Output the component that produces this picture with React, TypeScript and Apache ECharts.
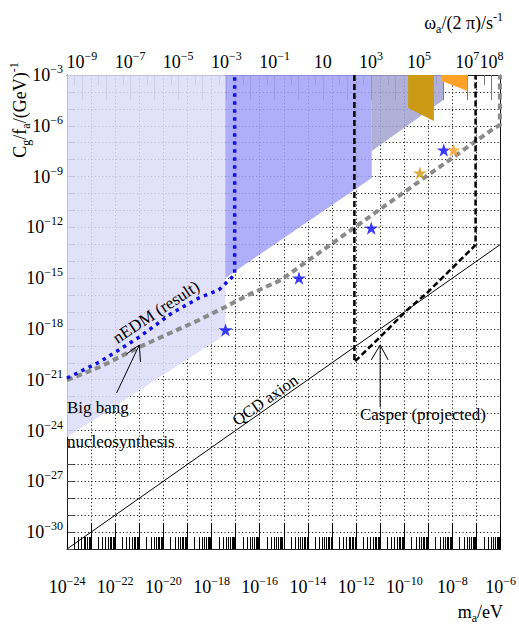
import React, { useEffect, useRef } from 'react';
import * as echarts from 'echarts';

const SERIF = '"Liberation Serif", "Times New Roman", serif';

// All values are log10: x = log10(m_a / eV), y = log10(C_g/f_a / GeV^-1)
const massMin = -24;
const massMax = -6;
const couplingMin = -31;
const couplingMax = -3;
const freqOffset = 14.383; // log10(frequency/Hz) - log10(mass/eV)

const bottomLabelExps = [-24, -22, -20, -18, -16, -14, -12, -10, -8, -6];
const leftLabelExps = [-30, -27, -24, -21, -18, -15, -12, -9, -6, -3];
const topLabelExps = [-9, -7, -5, -3, -1, 1, 3, 5, 7, 8];

// excluded regions (polygons)
const regionLight = [[-24, -3], [-17.43, -3], [-17.43, -18.35], [-24, -24.4]];
const regionBlue = [[-17.43, -3], [-11.35, -3], [-11.35, -9.08], [-17.43, -14.99]];
const regionGrey = [[-11.35, -3], [-8.38, -3], [-8.38, -4.48], [-11.35, -7.49]];
const regionGold = [[-9.84, -3], [-8.77, -3], [-8.77, -5.72], [-9.84, -4.95]];
const regionOrange = [[-8.44, -3], [-7.37, -3], [-7.37, -3.95], [-8.44, -3.35]];

// limit lines
const nedmLine = [[-24, -20.9], [-22.64, -19.95], [-21, -18.48], [-19.64, -17.06], [-18.52, -16.17], [-17.7, -15.7], [-17.04, -14.81], [-17.04, -3]];
const greyLine = [[-24, -21.02], [-22.64, -20.25], [-21, -19.07], [-18.52, -17.47], [-17.43, -16.7], [-16.47, -15.99], [-15.12, -15.11], [-11.04, -10.97], [-6.26, -6.13], [-6.03, -5.95], [-6.03, -3]];
const casperLine = [[-12.07, -3], [-12.07, -19.95], [-11.04, -18.53], [-9.88, -16.88], [-9.06, -15.88], [-7.04, -13.04], [-7.04, -3]];
const qcdLine = [[-24, -31], [-6, -13]];

// annotation arrows
const bbnArrowShaft = [[-21.94, -21.78], [-21.0, -18.95]];
const bbnArrowHead = [[-21.53, -19.48], [-21.0, -18.95], [-20.95, -19.95]];
const casperArrowShaft = [[-11.0, -22.61], [-11.0, -18.95]];
const casperArrowHead = [[-11.37, -19.83], [-11.0, -18.95], [-10.67, -19.83]];

// stars
const blueStars = [[-17.42, -18.06], [-14.37, -14.99], [-11.37, -12.04], [-8.36, -7.43]];
const goldStars = [[-9.35, -8.79]];
const orangeStars = [[-7.95, -7.43]];

const STAR = 'path://M50,0 L61.2,34.5 L97.6,34.5 L68.2,55.9 L79.4,90.5 L50,69.1 L20.6,90.5 L31.8,55.9 L2.4,34.5 L38.8,34.5 Z';

const rich = {
  b: { fontFamily: SERIF, fontSize: 18, lineHeight: 24, color: '#000' },
  s: { fontFamily: SERIF, fontSize: 12, lineHeight: 12, verticalAlign: 'top', color: '#000' },
  n: { fontFamily: SERIF, fontSize: 18, lineHeight: 24, color: '#000' },
  sub: { fontFamily: SERIF, fontSize: 12, lineHeight: 12, verticalAlign: 'bottom', color: '#000' },
};

const expLabel = (e: number) => {
  const r = Math.round(e);
  if (r === 1) return '{b|10}';
  return `{b|10}{s|${r < 0 ? '\u2212' + -r : r}}`;
};

function minorTicks(lo: number, hi: number, mults: number[]) {
  const out: number[] = [];
  for (let d = Math.floor(lo) - 1; d <= hi; d++) {
    for (const m of mults) {
      const v = d + Math.log10(m);
      if (v > lo && v < hi) out.push(v);
    }
  }
  return out;
}

function polygonSeries(pts: number[][], color: string, opacity: number) {
  return {
    type: 'custom',
    coordinateSystem: 'cartesian2d',
    xAxisIndex: 0,
    yAxisIndex: 0,
    silent: true,
    z: 1,
    data: [pts[0]],
    renderItem: (_p: any, api: any) => ({
      type: 'polygon',
      shape: { points: pts.map((p) => api.coord(p)) },
      style: { fill: color, opacity },
    }),
  };
}

function lineSeries(data: number[][], color: string, width: number, type: any, z = 3) {
  return {
    type: 'line',
    xAxisIndex: 0,
    yAxisIndex: 0,
    data,
    symbol: 'none',
    silent: true,
    z,
    lineStyle: { color, width, type, cap: 'butt', join: 'miter' },
  };
}

function starSeries(data: number[][], color: string) {
  return {
    type: 'scatter',
    xAxisIndex: 0,
    yAxisIndex: 0,
    data,
    symbol: STAR,
    symbolSize: 14,
    symbolKeepAspect: true,
    itemStyle: { color },
    silent: true,
    z: 5,
  };
}

function note(text: string, x: number, y: number, size: number, rotation = 0, align = 'center') {
  return {
    type: 'text', x, y, rotation, silent: true, z: 100,
    style: { text, fontSize: size, fontFamily: SERIF, fill: '#000', textAlign: align, textVerticalAlign: 'middle' },
  };
}

const freqMin = massMin + freqOffset;
const freqMax = massMax + freqOffset;
const freqMajor: number[] = [];
for (let k = Math.ceil(freqMin); k <= freqMax; k++) freqMajor.push(k);

const gridLine = { show: true, lineStyle: { color: '#222', width: 1, type: [1.2, 2.3] } };

const option: any = {
  animation: false,
  backgroundColor: '#fff',
  grid: { left: 67, right: 15, top: 75, bottom: 75, containLabel: false },
  xAxis: [
    {
      type: 'value', position: 'bottom', min: massMin, max: massMax, interval: 1,
      axisLine: { show: true, onZero: false, lineStyle: { color: '#222', width: 1 } },
      axisTick: { show: true, inside: true, length: 26, lineStyle: { color: '#000', width: 1 } },
      axisLabel: {
        margin: 26,
        formatter: (v: number) => (bottomLabelExps.includes(Math.round(v)) ? expLabel(v) : ''),
        rich,
      },
      splitLine: gridLine,
    },
    {
      type: 'value', position: 'bottom', min: massMin, max: massMax,
      axisLine: { show: false },
      axisTick: { show: true, inside: true, length: 12, customValues: minorTicks(massMin, massMax, [2, 3, 4, 5, 6, 7, 8, 9]), lineStyle: { color: '#000', width: 1 } },
      axisLabel: { show: false },
      splitLine: { show: false },
    },
    {
      type: 'value', position: 'top', min: freqMin, max: freqMax,
      axisLine: { show: true, onZero: false, lineStyle: { color: '#222', width: 1 } },
      axisTick: { show: true, inside: true, length: 25, customValues: freqMajor, lineStyle: { color: '#777', width: 1 } },
      axisLabel: {
        margin: 1,
        customValues: topLabelExps,
        formatter: (v: number) => expLabel(v),
        rich,
      },
      splitLine: { show: false },
    },
    {
      type: 'value', position: 'top', min: freqMin, max: freqMax,
      axisLine: { show: false },
      axisTick: { show: true, inside: true, length: 10, customValues: minorTicks(freqMin, freqMax, [5]), lineStyle: { color: '#777', width: 1 } },
      axisLabel: { show: false },
      splitLine: { show: false },
    },
  ],
  yAxis: [
    {
      type: 'value', position: 'left', min: couplingMin, max: couplingMax, interval: 1,
      axisLine: { show: true, onZero: false, lineStyle: { color: '#222', width: 1 } },
      axisTick: { show: true, inside: true, length: 7, lineStyle: { color: '#444', width: 1 } },
      axisLabel: {
        margin: 4,
        formatter: (v: number) => (leftLabelExps.includes(Math.round(v)) ? expLabel(v) : ''),
        rich,
      },
      splitLine: gridLine,
    },
    {
      type: 'value', position: 'right', min: couplingMin, max: couplingMax,
      axisLine: { show: true, onZero: false, lineStyle: { color: '#111', width: 1 } },
      axisTick: { show: false },
      axisLabel: { show: false },
      splitLine: { show: false },
    },
  ],
  series: [
    polygonSeries(regionLight, '#dcdcf8', 0.85),
    polygonSeries(regionBlue, '#a0a0f8', 0.85),
    polygonSeries(regionGrey, '#a2a2d2', 0.85),
    polygonSeries(regionGold, '#cc9a14', 1),
    polygonSeries(regionOrange, '#ffa126', 1),
    lineSeries(qcdLine, '#000', 1, 'solid'),
    lineSeries(greyLine, '#8a8a8a', 4, [6, 4]),
    lineSeries(nedmLine, '#1010e8', 3.5, [3.5, 4.5]),
    lineSeries(casperLine, '#000', 2.5, [6, 3]),
    lineSeries(bbnArrowShaft, '#000', 1, 'solid'),
    lineSeries(bbnArrowHead, '#000', 1, 'solid'),
    lineSeries(casperArrowShaft, '#000', 1, 'solid'),
    lineSeries(casperArrowHead, '#000', 1, 'solid'),
    starSeries(blueStars, '#0a0aff'),
    starSeries(goldStars, '#d09a12'),
    starSeries(orangeStars, '#ffa020'),
  ],
  graphic: [
    {
      type: 'text', x: 503, y: 23, silent: true, z: 100,
      style: { text: '{n|\u03c9}{sub|a}{n|/(2 \u03c0)/s}{s|-1}', rich, textAlign: 'right', textVerticalAlign: 'middle' },
    },
    {
      type: 'text', x: 503, y: 612, silent: true, z: 100,
      style: { text: '{n|m}{sub|a}{n|/eV}', rich, textAlign: 'right', textVerticalAlign: 'middle' },
    },
    {
      type: 'text', x: 20, y: 110, rotation: Math.PI / 2, silent: true, z: 100,
      style: { text: '{n|C}{sub|g}{n|/f}{sub|a}{n|/(GeV)}{s|-1}', rich, textAlign: 'center', textVerticalAlign: 'middle' },
    },
    note('nEDM (result)', 156, 312, 17, 0.58),
    note('QCD axion', 265, 400, 16.5, 0.61),
    note('Big bang', 67, 407, 17, 0, 'left'),
    note('nucleosynthesis', 67, 441, 17, 0, 'left'),
    note('Casper (projected)', 423, 414, 17),
  ],
};

export default function App() {
  const ref = useRef<HTMLDivElement>(null);
  useEffect(() => {
    if (!ref.current) return;
    const chart = echarts.init(ref.current, null, { renderer: 'svg' });
    chart.setOption(option);
    return () => chart.dispose();
  }, []);
  return <div ref={ref} style={{ position: 'absolute', left: 0, top: 0, width: 519, height: 624 }} />;
}
